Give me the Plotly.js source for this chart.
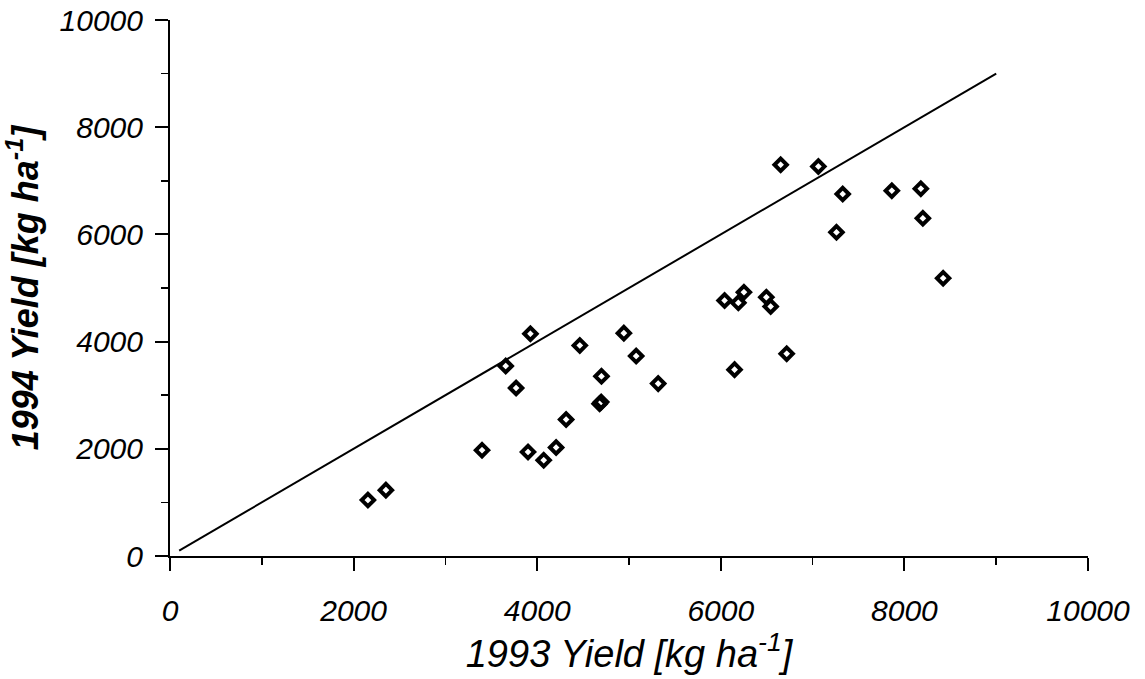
<!DOCTYPE html>
<html>
<head>
<meta charset="utf-8">
<script src="https://cdn.plot.ly/plotly-3.0.1.min.js"></script>
<style>html,body{margin:0;padding:0;background:#fff;}#chart{width:1145px;height:679px;}</style>
</head>
<body>
<div id="chart"></div>
<script>
const yield1993 = [2156, 2352, 3399, 3657, 3770, 3900, 3926, 4071, 4206, 4315, 4464, 4680, 4697, 4700, 4944, 5078, 5318,
  6041, 6150, 6191, 6252, 6496, 6543, 6652, 6718, 7063, 7260, 7328, 7863, 8179, 8201, 8422];
const yield1994 = [1043, 1229, 1974, 3544, 3134, 1942, 4147, 1788, 2024, 2546, 3929, 2840, 2875, 3352, 4158, 3730, 3216,
  4767, 3477, 4724, 4922, 4829, 4655, 7300, 3775, 7268, 6039, 6754, 6816, 6853, 6300, 5183];
const lineX = [100, 9000];
const lineY = [100, 9000];
const tickVals = [0, 2000, 4000, 6000, 8000, 10000];
const tickText = ['0', '2000', '4000', '6000', '8000', '10000'];

const font = 'Liberation Sans, Arial, sans-serif';
const axisCommon = {
  range: [0, 10000],
  showgrid: false,
  zeroline: false,
  showline: true,
  linecolor: '#000',
  linewidth: 2,
  ticks: 'outside',
  ticklen: 13,
  tickwidth: 2,
  tickcolor: '#000',
  tickvals: tickVals,
  ticktext: tickText,
  tickfont: {family: font, size: 30, color: '#000', style: 'italic'},
  minor: {dtick: 1000, tick0: 0, ticks: 'outside', ticklen: 7, tickwidth: 1.5, tickcolor: '#000', showgrid: false}
};

const data = [
  {x: lineX, y: lineY, mode: 'lines', line: {color: '#000', width: 2}, hoverinfo: 'skip'},
  {x: yield1993, y: yield1994, mode: 'markers',
   marker: {symbol: 'diamond-open', size: 9.5, color: '#000', line: {color: '#000', width: 4}}}
];

const layout = {
  width: 1145, height: 679,
  margin: {l: 170, r: 57, t: 20, b: 123},
  paper_bgcolor: '#fff', plot_bgcolor: '#fff',
  showlegend: false,
  xaxis: Object.assign({}, axisCommon, {
    ticklabelstandoff: 14,
    title: {text: '1993 Yield [kg ha<sup>-1</sup>]', font: {family: font, size: 38, color: '#000', style: 'italic'}, standoff: 12}
  }),
  yaxis: Object.assign({}, axisCommon, {
    ticklabelstandoff: 6,
    title: {text: '1994 Yield [kg ha<sup>-1</sup>]', font: {family: font, size: 36, color: '#000', style: 'italic', weight: 'bold'}, standoff: 16}
  })
};

Plotly.newPlot('chart', data, layout, {displayModeBar: false, staticPlot: true});
</script>
</body>
</html>
